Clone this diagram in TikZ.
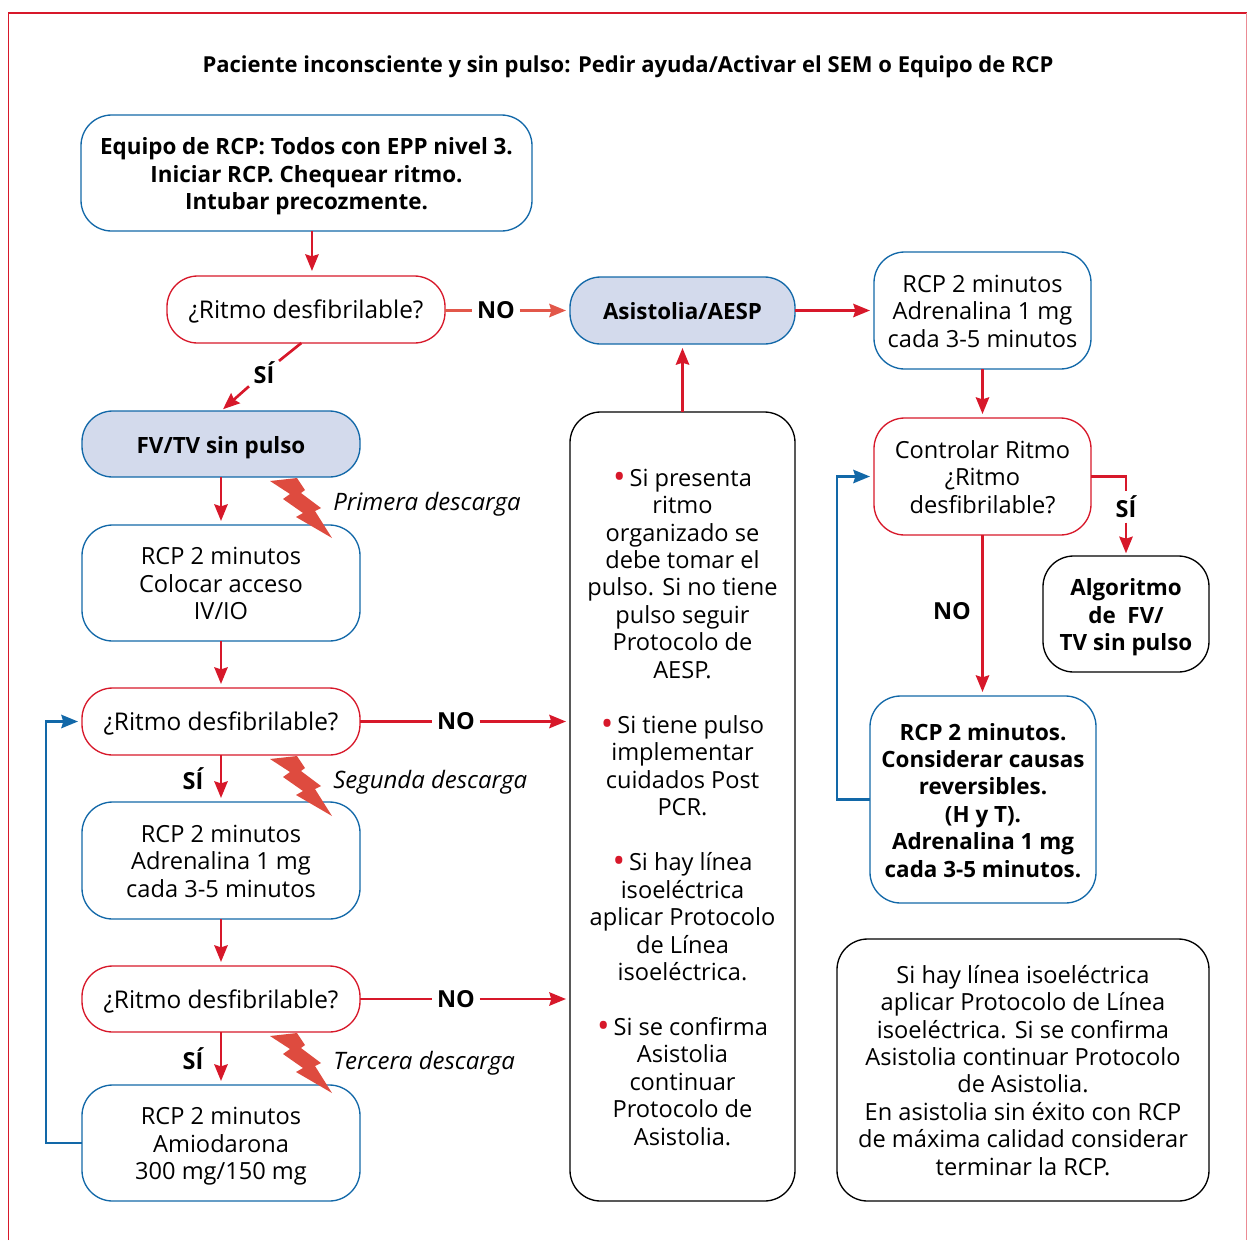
\documentclass[tikz,border=0pt]{standalone}
\usepackage{fontspec}
\setmainfont{Open Sans}
\usetikzlibrary{arrows.meta}
\definecolor{cred}{HTML}{D7182A}
\definecolor{cblue}{HTML}{1268A8}
\definecolor{cfill}{HTML}{D3DAEC}
\definecolor{cbolt}{HTML}{DE4B3F}
\definecolor{csalmon}{HTML}{E2574A}
\newcommand{\txt}{\fontsize{17.7}{20.6}\selectfont}
\newcommand{\txtq}{\fontsize{18.3}{20.6}\selectfont}
\newcommand{\txtb}{\fontsize{16.8}{20.6}\selectfont\bfseries}
\newcommand{\rbox}[7]{\node[boxbase,#2,minimum width={((#5)-(#3))*0.75pt},minimum height={((#6)-(#4))*0.75pt}] (#1) at ({((#3)+(#5))/2},{((#4)+(#6))/2}) {\raisebox{-7.1pt}[0pt][0pt]{\begin{tabular}{@{}c@{}}#7\end{tabular}}};}
\newcommand{\bolt}[2]{\fill[cbolt] (#1,#2) ++(0,3) -- ++(27,-3) -- ++(8,12) -- ++(-4,3) -- ++(20,15) -- ++(-6,3) -- ++(17,27) -- ++(-36,-21) -- ++(7,-4) -- ++(-20,-14) -- ++(7,-5) -- cycle;}
\newcommand{\redbul}{{\color{cred}\raisebox{-1.6pt}{\fontsize{25}{20}\selectfont•}}\,}
\tikzset{
  boxbase/.style={rounded corners=23pt,inner sep=0pt,outer sep=0pt,line width=1pt,font=\txt,text=black},
  bluebox/.style={draw=cblue},
  redbox/.style={draw=cred},
  blackbox/.style={draw=black},
  filled/.style={draw=cblue,fill=cfill},
  conn/.style={cred,line width=2pt},
  arr/.style={conn,shorten >=3pt,-{Stealth[length=12.5pt,width=10pt,inset=1.5pt]}},
  barr/.style={arr,cblue},
  lab/.style={font=\fontsize{17.6}{20}\selectfont\bfseries,inner sep=0pt,outer sep=3.5pt},
  desc/.style={font=\fontsize{18}{20}\selectfont\itshape,anchor=west,inner sep=0pt},
}
\begin{document}
\begin{tikzpicture}[x=0.75pt,y=-0.75pt]
\useasboundingbox (0,0) rectangle (1247,1240);
\draw[cred,line width=1pt] (8.5,1240) -- (8.5,13) -- (1247,13);
\draw[cred!50,line width=0.8pt] (1246.5,13) -- (1246.5,1240);
\node[font=\fontsize{16.5}{20}\selectfont\bfseries,inner sep=0pt] (title) at (628,66.5) {Paciente inconsciente y sin pulso: Pedir ayuda/Activar el SEM o Equipo de RCP};

\rbox{equipo}{bluebox,font=\txtb}{81}{115}{532}{231}{Equipo de RCP: Todos con EPP nivel 3.\\Iniciar RCP. Chequear ritmo.\\Intubar precozmente.}
\rbox{qone}{redbox,font=\txtq}{167}{276}{445}{343}{¿Ritmo desfibrilable?}
\rbox{asist}{filled,font=\txtb}{570}{277}{795}{344}{Asistolia/AESP}
\rbox{rcpadr}{bluebox}{874}{252}{1091}{369}{RCP 2 minutos\\Adrenalina 1 mg\\cada 3-5 minutos}
\rbox{fv}{filled,font=\txtb}{82}{411}{360}{477}{FV/TV sin pulso}
\rbox{rcpa}{bluebox}{82}{525}{360}{641}{RCP 2 minutos\\Colocar acceso\\IV/IO}
\rbox{qtwo}{redbox,font=\txtq}{82}{688}{360}{755}{¿Ritmo desfibrilable?}
\rbox{rcpb}{bluebox}{82}{802}{360}{919}{RCP 2 minutos\\Adrenalina 1 mg\\cada 3-5 minutos}
\rbox{qthree}{redbox,font=\txtq}{82}{966}{360}{1032}{¿Ritmo desfibrilable?}
\rbox{rcpc}{bluebox}{82}{1085}{360}{1201}{RCP 2 minutos\\Amiodarona\\300 mg/150 mg}
\rbox{big}{blackbox}{570}{412}{795}{1201}{\redbul Si presenta\\ritmo\\organizado se\\debe tomar el\\pulso. Si no tiene\\pulso seguir\\Protocolo de\\AESP.\\[20.6pt]\redbul Si tiene pulso\\implementar\\cuidados Post\\PCR.\\[20.6pt]\redbul Si hay línea\\isoeléctrica\\aplicar Protocolo\\de Línea\\isoeléctrica.\\[20.6pt]\redbul Si se confirma\\Asistolia\\continuar\\Protocolo de\\Asistolia.}
\rbox{ctrl}{redbox}{874}{418}{1091}{535}{Controlar Ritmo\\¿Ritmo\\desfibrilable?}
\rbox{alg}{blackbox,font=\txtb}{1043}{556}{1209}{672}{Algoritmo\\de~~FV/\\TV sin pulso}
\rbox{rcpd}{bluebox,font=\txtb}{870}{696}{1096}{903}{RCP 2 minutos.\\Considerar causas\\reversibles.\\(H y T).\\Adrenalina 1 mg\\cada 3-5 minutos.}
\rbox{note}{blackbox}{837}{939}{1209}{1201}{Si hay línea isoeléctrica\\aplicar Protocolo de Línea\\isoeléctrica. Si se confirma\\Asistolia continuar Protocolo\\de Asistolia.\\En asistolia sin éxito con RCP\\de máxima calidad considerar\\terminar la RCP.}

\bolt{270}{478}
\bolt{270}{756}
\bolt{270}{1033}
\node[desc] (d1) at (333,504) {Primera descarga};
\node[desc] (d2) at (333,782) {Segunda descarga};
\node[desc] (d3) at (333,1063) {Tercera descarga};

\node[lab] (noa) at (496,310.5) {NO};
\node[lab] (sia) at (264,373) {SÍ};
\node[lab] (nob) at (456,721.5) {NO};
\node[lab] (noc) at (456,999) {NO};
\node[lab] (sib) at (193,779) {SÍ};
\node[lab] (sic) at (193,1059) {SÍ};
\node[lab] (nod) at (952,611) {NO};
\node[lab] (sid) at (1126,507) {SÍ};

\coordinate (bigw2) at (570,721.5);
\coordinate (bigw3) at (570,999);

\draw[arr,shorten >=0pt] ([xshift=4.1pt]equipo.south) -- ++(0,40);
\draw[conn,csalmon] (qone.east |- noa) -- (noa.west);
\draw[arr,csalmon] (noa.east) -- (asist.west);
\draw[conn] ([xshift=-3.5pt]qone.south) -- (sia);
\draw[arr,shorten >=2pt] (sia) -- (fv.north);
\draw[arr] (asist.east) -- (rcpadr.west);
\draw[arr] (fv) -- (rcpa);
\draw[arr] (rcpa) -- (qtwo);
\draw[conn] (qtwo.east) -- (nob.west);
\draw[arr] (nob.east) -- (bigw2);
\draw[arr] (qtwo) -- (rcpb);
\draw[arr] (rcpb) -- (qthree);
\draw[conn] (qthree.east) -- (noc.west);
\draw[arr] (noc.east) -- (bigw3);
\draw[arr] (qthree) -- (rcpc);
\draw[arr] (big.north) -- (asist.south);
\draw[arr] (rcpadr) -- (ctrl);
\draw[arr] (ctrl.south) -- (ctrl.south |- rcpd.north);
\draw[conn] (ctrl.east) -| (sid.north);
\draw[arr,shorten >=2pt] (sid.south) -- (alg.north);
\draw[barr] (rcpc.west) -- ++(-36,0) |- (qtwo.west);
\draw[barr] (rcpd.west) -- ++(-33,0) |- (ctrl.west);
\end{tikzpicture}
\end{document}
